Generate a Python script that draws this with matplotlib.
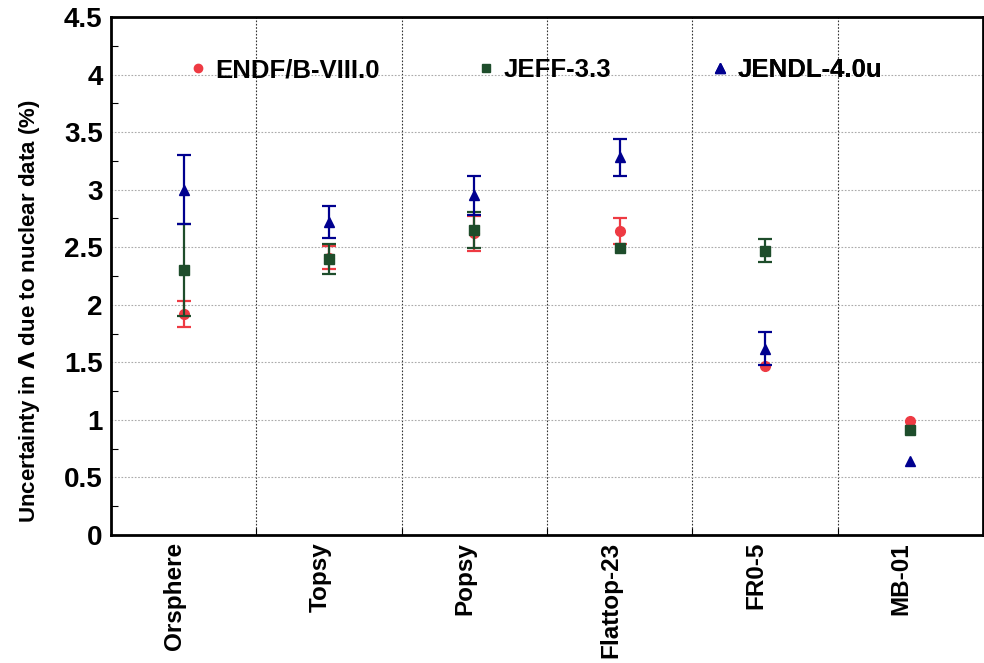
import matplotlib
matplotlib.use("Agg")
import matplotlib.pyplot as plt
from matplotlib.lines import Line2D
from matplotlib.transforms import ScaledTranslation
import numpy as np

categories = ["Orsphere", "Topsy", "Popsy", "Flattop-23", "FR0-5", "MB-01"]
endf_vals = [1.92, 2.41, 2.62, 2.64, 1.47, 0.99]
endf_err = [0.11, 0.10, 0.15, 0.11, 0.0, 0.0]
jeff_vals = [2.30, 2.40, 2.65, 2.49, 2.47, 0.91]
jeff_err = [0.40, 0.13, 0.16, 0.0, 0.10, 0.0]
jendl_vals = [3.00, 2.72, 2.95, 3.28, 1.62, 0.64]
jendl_err = [0.30, 0.14, 0.17, 0.16, 0.14, 0.0]
series_labels = ["ENDF/B-VIII.0", "JEFF-3.3", "JENDL-4.0u"]
ytick_labels = ["0", "0.5", "1", "1.5", "2", "2.5", "3", "3.5", "4", "4.5"]

c_red = "#ee3a43"
c_green = "#1e4d2b"
c_blue = "#00008f"

plt.rcParams['font.family'] = ['Liberation Sans', 'DejaVu Sans']
plt.rcParams['font.weight'] = 'bold'
plt.rcParams['mathtext.fontset'] = 'custom'
plt.rcParams['mathtext.rm'] = 'DejaVu Sans'

fig = plt.figure(figsize=(9.84, 6.63), dpi=100)
ax = fig.add_axes([111/984, 1-535/663, (983-111)/984, (535-17)/663])

x = np.arange(len(categories)) + 0.5


def nz(err):
    e = np.asarray(err, dtype=float)
    return np.where(e > 0, e, np.nan)


ax.errorbar(x, endf_vals, yerr=nz(endf_err), fmt='o', color=c_red, ms=7, lw=1.6,
            capsize=5, capthick=1.6, zorder=3)
ax.errorbar(x, jeff_vals, yerr=nz(jeff_err), fmt='s', color=c_green, ms=7, lw=1.6,
            capsize=5, capthick=1.6, zorder=4)
ax.errorbar(x, jendl_vals, yerr=nz(jendl_err), fmt='^', color=c_blue, ms=7.5, lw=1.6,
            capsize=5, capthick=1.6, zorder=5)

ax.set_xlim(0, len(categories))
ax.set_ylim(0, 4.5)
ax.set_yticks(np.arange(0, 4.51, 0.5))
ax.set_yticklabels(ytick_labels)
ax.set_yticks(np.arange(0.25, 4.5, 0.5), minor=True)
ax.tick_params(axis='y', which='major', length=0, labelsize=20, pad=6)
ax.tick_params(axis='y', which='minor', length=5, direction='in', width=0.8)

# boundaries as x ticks (for grid), labels at centers
ax.set_xticks(np.arange(1, len(categories)))
ax.set_xticklabels([])
ax.set_xticks(x, minor=True)
ax.set_xticklabels(categories, minor=True, rotation=90, fontsize=17.5, va='top', ha='center')
ax.tick_params(axis='x', which='minor', length=0, pad=5)
ax.tick_params(axis='x', which='major', length=5, direction='in', width=0.8)
for lab in ax.get_xticklabels(minor=True):
    lab.set_transform(lab.get_transform() + ScaledTranslation(-9/100, 0, fig.dpi_scale_trans))

ax.grid(True, which='major', axis='y', linestyle=(0, (1.5, 1.5)), color='#aaaaaa', lw=0.8)
ax.grid(True, which='major', axis='x', linestyle=(0, (1.5, 1.5)), color='#333333', lw=0.8)
ax.set_axisbelow(True)

for s in ax.spines.values():
    s.set_linewidth(2)

ax.set_ylabel(r"Uncertainty in $\Lambda$ due to nuclear data (%)", fontsize=16,
              fontweight='bold')
ax.yaxis.set_label_coords((42 - 111) / 872, 1 - (311 - 17) / 518)

handles = [
    Line2D([], [], marker='o', color=c_red, ls='none', ms=6),
    Line2D([], [], marker='s', color=c_green, ls='none', ms=6),
    Line2D([], [], marker='^', color=c_blue, ls='none', ms=6.5),
]
leg_px = [190.5, 478.5, 712.5]
for h, lab, px in zip(handles, series_labels, leg_px):
    lg = ax.legend([h], [lab], loc='center left',
                   bbox_to_anchor=((px - 111) / 872, 1 - (70 - 17) / 518),
                   frameon=False, fontsize=18.5, handlelength=0.6, handletextpad=0.38,
                   borderpad=0, borderaxespad=0)
    ax.add_artist(lg)

fig.savefig("out.png", dpi=100)
